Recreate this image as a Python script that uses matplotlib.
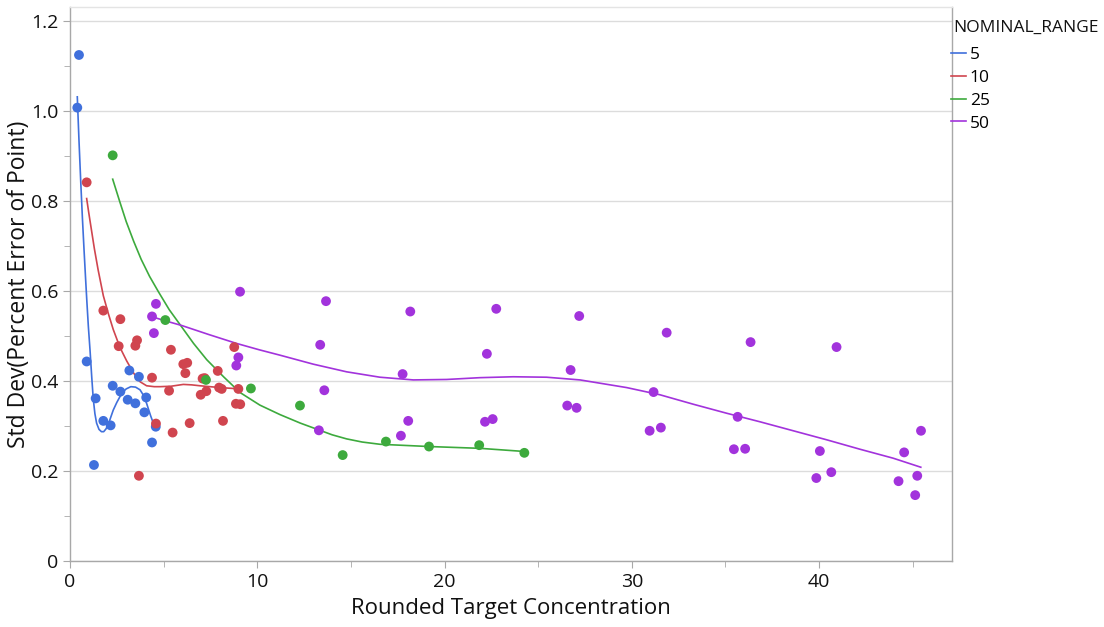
import numpy as np
import matplotlib
matplotlib.use("Agg")
import matplotlib.pyplot as plt
from matplotlib.ticker import MultipleLocator

plt.rcParams['font.family'] = ['Open Sans', 'DejaVu Sans']

# NOMINAL_RANGE = 5
x5 = [0.48, 0.39, 0.89, 1.37, 1.28, 1.78, 2.17, 2.28, 2.69, 3.08, 3.17, 3.49, 3.68, 3.97, 4.07, 4.38, 4.58]
y5 = [1.125, 1.008, 0.444, 0.362, 0.214, 0.312, 0.302, 0.390, 0.377, 0.359, 0.424, 0.351, 0.410, 0.331, 0.364, 0.264, 0.299]

# NOMINAL_RANGE = 10
x10 = [0.89, 1.78, 2.69, 2.60, 3.49, 3.58, 4.38, 5.39, 5.29, 4.59, 5.48, 3.68, 6.05, 6.26,
       6.16, 6.39, 7.08, 7.19, 6.98, 7.28, 7.89, 7.96, 8.10, 8.17, 8.77, 8.99, 8.86, 9.09]
y10 = [0.842, 0.557, 0.538, 0.478, 0.479, 0.491, 0.408, 0.470, 0.379, 0.306, 0.286, 0.190, 0.438, 0.441,
       0.418, 0.307, 0.406, 0.407, 0.370, 0.378, 0.423, 0.386, 0.383, 0.312, 0.476, 0.383, 0.350, 0.349]

# NOMINAL_RANGE = 25
x25 = [2.28, 5.09, 7.26, 9.66, 12.28, 14.56, 16.87, 19.17, 21.85, 24.26]
y25 = [0.902, 0.536, 0.403, 0.384, 0.346, 0.236, 0.266, 0.255, 0.258, 0.241]

# NOMINAL_RANGE = 50
x50 = [4.59, 4.38, 4.48, 9.08, 8.99, 8.88, 13.67, 18.17, 22.76, 13.36, 22.26, 26.73, 17.76,
       13.58, 13.29, 18.06, 17.67, 22.16, 22.57, 26.55, 27.05, 27.19, 31.86, 31.16, 30.95,
       31.55, 36.34, 35.65, 35.45, 36.05, 40.93, 40.04, 39.85, 40.65, 45.44, 44.54, 44.24,
       45.24, 45.13]
y50 = [0.572, 0.544, 0.507, 0.599, 0.453, 0.435, 0.578, 0.555, 0.561, 0.481, 0.461, 0.425, 0.416,
       0.380, 0.291, 0.312, 0.279, 0.310, 0.316, 0.346, 0.341, 0.545, 0.508, 0.376, 0.290,
       0.297, 0.487, 0.321, 0.249, 0.250, 0.476, 0.245, 0.185, 0.198, 0.290, 0.242, 0.178,
       0.190, 0.147]

# smoothing spline fits
fit5_x = [0.39, 0.48, 0.57, 0.66, 0.75, 0.83, 0.90, 0.98, 1.07, 1.16, 1.24, 1.33, 1.42, 1.55, 1.68,
          1.80, 1.92, 2.05, 2.31, 2.50, 2.67, 2.85, 3.00, 3.25, 3.50, 3.74, 3.92, 4.09, 4.30, 4.58]
fit5_y = [1.032, 0.935, 0.847, 0.765, 0.692, 0.630, 0.578, 0.522, 0.469, 0.410, 0.362, 0.328, 0.307,
          0.293, 0.288, 0.288, 0.294, 0.305, 0.336, 0.353, 0.366, 0.377, 0.383, 0.388, 0.387, 0.381,
          0.369, 0.351, 0.324, 0.292]

fit10_x = [0.89, 1.00, 1.15, 1.30, 1.50, 1.78, 2.05, 2.31, 2.67, 3.03, 3.40, 3.74, 4.09, 4.50,
           4.81, 5.40, 6.05, 6.50, 6.94, 8.01, 9.08]
fit10_y = [0.806, 0.775, 0.735, 0.695, 0.648, 0.590, 0.550, 0.515, 0.475, 0.445, 0.418, 0.399, 0.390,
           0.388, 0.388, 0.389, 0.393, 0.392, 0.390, 0.386, 0.383]

fit25_x = [2.28, 2.65, 3.00, 3.40, 3.80, 4.25, 4.72, 5.30, 5.96, 6.60, 7.30, 8.20, 9.08, 10.14,
           11.21, 12.30, 13.28, 14.00, 14.77, 15.60, 16.55, 19.17, 21.89, 24.26]
fit25_y = [0.849, 0.800, 0.755, 0.711, 0.671, 0.633, 0.599, 0.559, 0.521, 0.484, 0.448, 0.410, 0.375,
           0.347, 0.326, 0.307, 0.292, 0.281, 0.272, 0.265, 0.260, 0.255, 0.251, 0.244]

fit50_x = [4.40, 5.20, 5.96, 7.40, 8.90, 10.10, 11.21, 12.99, 14.77, 16.55, 18.33, 20.11, 21.89,
           23.67, 25.45, 27.23, 29.72, 31.50, 33.28, 35.06, 36.84, 38.62, 40.40, 42.18, 43.96, 45.43]
fit50_y = [0.543, 0.533, 0.524, 0.504, 0.484, 0.470, 0.458, 0.438, 0.421, 0.409, 0.403, 0.404, 0.408,
           0.410, 0.409, 0.403, 0.386, 0.370, 0.349, 0.329, 0.310, 0.290, 0.270, 0.249, 0.229, 0.209]

groups = [
    ("5", x5, y5, fit5_x, fit5_y, "#4070DC"),
    ("10", x10, y10, fit10_x, fit10_y, "#D0454F"),
    ("25", x25, y25, fit25_x, fit25_y, "#3DAA3D"),
    ("50", x50, y50, fit50_x, fit50_y, "#A233DC"),
]

fig = plt.figure(figsize=(11.04, 6.27), dpi=100)
ax = fig.add_axes([0.0634, 0.1048, 0.799, 0.8836])

handles = []
for name, xs, ys, fx, fy, col in groups:
    ax.scatter(xs, ys, s=50, color=col, edgecolors="none", zorder=3)
    ln, = ax.plot(fx, fy, color=col, lw=1.2, zorder=2, label=name,
                  solid_joinstyle="round")
    handles.append(ln)

ax.set_xlim(0, 47.1)
ax.set_ylim(0, 1.231)
ax.xaxis.set_major_locator(MultipleLocator(10))
ax.xaxis.set_minor_locator(MultipleLocator(5))
ax.yaxis.set_minor_locator(MultipleLocator(0.1))
ax.set_yticks([0, 0.2, 0.4, 0.6, 0.8, 1.0, 1.2])
ax.set_yticklabels(["0", "0.2", "0.4", "0.6", "0.8", "1.0", "1.2"])
ax.grid(axis="y", color="#DCDCDC", lw=1)
ax.set_axisbelow(True)

for sp in ax.spines.values():
    sp.set_color("#A8A8A8")
    sp.set_linewidth(1)
ax.spines["top"].set_color("#E4E4E4")

ax.tick_params(which="both", color="#A8A8A8", labelsize=14, labelcolor="#111111")
ax.tick_params(which="major", length=5)
ax.tick_params(which="minor", length=4)

ax.set_xlabel("Rounded Target Concentration", fontsize=16, color="#111111", labelpad=5)
ax.set_ylabel("Std Dev(Percent Error of Point)", fontsize=16.5, color="#111111", labelpad=0)

# legend title drawn on its own so the gap to the entries can be set
fig.text(0.8635, 0.955, "NOMINAL_RANGE", fontsize=12.5, color="#111111",
         ha="left", va="center")
leg = ax.legend(handles=handles, loc="upper left",
                bbox_to_anchor=(0.9985, 0.928), frameon=False, fontsize=12.5,
                handlelength=0.9, handletextpad=0.2,
                labelspacing=0.38, borderaxespad=0.0, borderpad=0.0)

fig.savefig("out.png", dpi=100)
